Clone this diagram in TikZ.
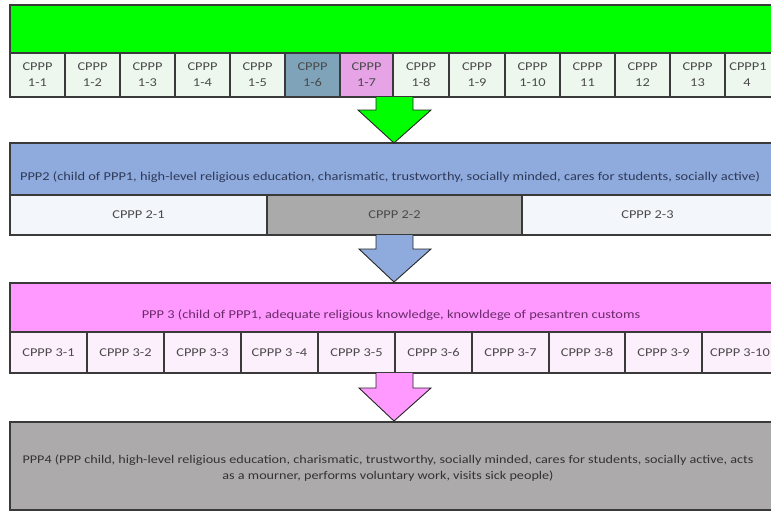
\documentclass[tikz,border=0pt]{standalone}
\usepackage{fontspec}
\setmainfont[FakeStretch=1.2]{Carlito}
\definecolor{gbright}{HTML}{00FF00}
\definecolor{topcell}{HTML}{EEF7EE}
\definecolor{csteel}{HTML}{7FA3B9}
\definecolor{cviolet}{HTML}{E6A3E6}
\definecolor{bblue}{HTML}{8FAADC}
\definecolor{cell2l}{HTML}{F3F6FB}
\definecolor{cell2g}{HTML}{AAAAAA}
\definecolor{ppink}{HTML}{FF99FF}
\definecolor{cell3}{HTML}{FDF0FD}
\definecolor{pgray}{HTML}{ADAAAB}
\definecolor{edge}{HTML}{3A3A3A}
\definecolor{celltext}{HTML}{4A4A4A}
\definecolor{ptwotext}{HTML}{2E3A59}
\definecolor{pthreetext}{HTML}{6B2A6B}
\definecolor{pfourtext}{HTML}{333333}
\begin{document}
\begin{tikzpicture}[x=1pt,y=-1pt,
  box/.style={draw=edge,line width=1.2pt,inner sep=0pt,outer sep=0pt},
  topc/.style={box,fill=topcell,minimum height=44pt,align=center,text=celltext,font=\fontsize{12}{16}\selectfont},
  rowc/.style={box,minimum height=40pt,text=celltext,font=\fontsize{12}{14}\selectfont},
  blockarrow/.style={draw=black!85,line width=0.9pt,line join=miter}
]
\useasboundingbox (0,0) rectangle (771,512);
% top green band
\node[box,fill=gbright,minimum width=763pt,minimum height=48pt,anchor=north west] (p1) at (10,5) {};
% top row cells
\node[topc,minimum width=55pt,anchor=north west] (c11) at (10,53) {CPPP\\1-1};
\node[topc,minimum width=55pt,anchor=north west] (c12) at (65,53) {CPPP\\1-2};
\node[topc,minimum width=55pt,anchor=north west] (c13) at (120,53) {CPPP\\1-3};
\node[topc,minimum width=55pt,anchor=north west] (c14) at (175,53) {CPPP\\1-4};
\node[topc,minimum width=55pt,anchor=north west] (c15) at (230,53) {CPPP\\1-5};
\node[topc,fill=csteel,minimum width=55pt,anchor=north west] (c16) at (285,53) {CPPP\\1-6};
\node[topc,fill=cviolet,minimum width=53pt,anchor=north west] (c17) at (340,53) {CPPP\\1-7};
\node[topc,minimum width=56pt,anchor=north west] (c18) at (393,53) {CPPP\\1-8};
\node[topc,minimum width=56pt,anchor=north west] (c19) at (449,53) {CPPP\\1-9};
\node[topc,minimum width=55pt,anchor=north west] (c110) at (505,53) {CPPP\\1-10};
\node[topc,minimum width=55pt,anchor=north west] (c111) at (560,53) {CPPP\\11};
\node[topc,minimum width=55pt,anchor=north west] (c112) at (615,53) {CPPP\\12};
\node[topc,minimum width=55pt,anchor=north west] (c113) at (670,53) {CPPP\\13};
\node[topc,minimum width=48pt,anchor=north west] (c114) at (725,53) {\hspace*{-2pt}CPPP1\\\hspace*{-4pt}4};
% PPP2
\node[box,fill=bblue,minimum width=763pt,minimum height=52pt,anchor=north west] (p2) at (10,143) {};
\node[text=ptwotext,font=\fontsize{12}{14}\selectfont,inner sep=0pt] (p2t) at (390,177) {PPP2 (child of PPP1, high-level religious education, charismatic, trustworthy, socially minded, cares for students, socially active)};
\node[rowc,fill=cell2l,minimum width=257pt,anchor=north west] (c21) at (10,195) {CPPP 2-1};
\node[rowc,fill=cell2g,minimum width=255pt,anchor=north west] (c22) at (267,195) {CPPP 2-2};
\node[rowc,fill=cell2l,minimum width=251pt,anchor=north west] (c23) at (522,195) {CPPP 2-3};
% PPP3
\node[box,fill=ppink,minimum width=763pt,minimum height=49pt,anchor=north west] (p3) at (10,283) {};
\node[text=pthreetext,font=\fontsize{12}{14}\selectfont,inner sep=0pt] (p3t) at (391,315) {PPP 3 (child of PPP1, adequate religious knowledge, knowldege of pesantren customs};
\node[rowc,fill=cell3,minimum width=77pt,minimum height=41pt,anchor=north west] (c31) at (10,332) {CPPP 3-1};
\node[rowc,fill=cell3,minimum width=77pt,minimum height=41pt,anchor=north west] (c32) at (87,332) {CPPP 3-2};
\node[rowc,fill=cell3,minimum width=77pt,minimum height=41pt,anchor=north west] (c33) at (164,332) {CPPP 3-3};
\node[rowc,fill=cell3,minimum width=77pt,minimum height=41pt,anchor=north west] (c34) at (241,332) {CPPP 3 -4};
\node[rowc,fill=cell3,minimum width=77pt,minimum height=41pt,anchor=north west] (c35) at (318,332) {CPPP 3-5};
\node[rowc,fill=cell3,minimum width=77pt,minimum height=41pt,anchor=north west] (c36) at (395,332) {CPPP 3-6};
\node[rowc,fill=cell3,minimum width=77pt,minimum height=41pt,anchor=north west] (c37) at (472,332) {CPPP 3-7};
\node[rowc,fill=cell3,minimum width=76pt,minimum height=41pt,anchor=north west] (c38) at (549,332) {CPPP 3-8};
\node[rowc,fill=cell3,minimum width=77pt,minimum height=41pt,anchor=north west] (c39) at (625,332) {CPPP 3-9};
\node[rowc,fill=cell3,minimum width=71pt,minimum height=41pt,anchor=north west] (c310) at (702,332) {\hspace*{5pt}CPPP 3-10};
% PPP4
\node[box,fill=pgray,minimum width=763pt,minimum height=88pt,anchor=north west] (p4) at (10,422) {};
\node[text=pfourtext,font=\fontsize{11.8}{16}\selectfont,align=center,inner sep=0pt] (p4t) at (388,468) {PPP4 (PPP child, high-level religious education, charismatic, trustworthy, socially minded, cares for students, socially active, acts\\as a mourner, performs voluntary work, visits sick people)};
% block arrows
\coordinate (ga) at (394,143);
\coordinate (ba) at (394,282);
\coordinate (pa) at (394,421);
\filldraw[blockarrow,fill=gbright] (376,97) -- (376,110) -- (358,110) -- (ga) -- (431,110) -- (413,110) -- (413,97);
\filldraw[blockarrow,fill=bblue] (376,235) -- (376,249) -- (359,249) -- (ba) -- (431,249) -- (413,249) -- (413,235);
\filldraw[blockarrow,fill=ppink] (376,373) -- (376,388) -- (359,388) -- (pa) -- (431,388) -- (413,388) -- (413,373);
\end{tikzpicture}
\end{document}
